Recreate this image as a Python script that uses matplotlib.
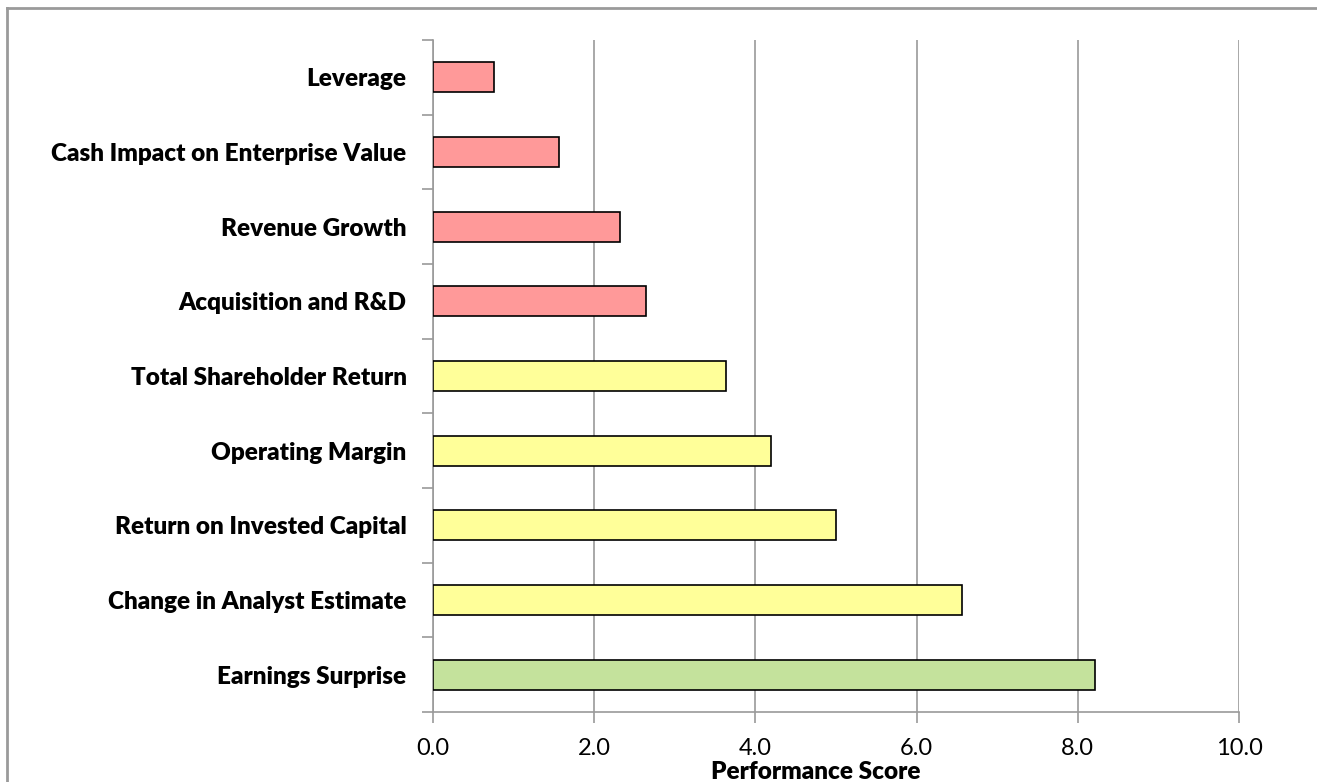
import matplotlib.pyplot as plt
from matplotlib.lines import Line2D
from matplotlib.ticker import FixedLocator, FormatStrFormatter

# metric names, listed bottom to top
metrics = [
    "Earnings Surprise",
    "Change in Analyst Estimate",
    "Return on Invested Capital",
    "Operating Margin",
    "Total Shareholder Return",
    "Acquisition and R&D",
    "Revenue Growth",
    "Cash Impact on Enterprise Value",
    "Leverage",
]
scores = [8.21, 6.56, 5.00, 4.19, 3.64, 2.64, 2.32, 1.56, 0.76]
tiers = ["high", "mid", "mid", "mid", "mid", "low", "low", "low", "low"]

tier_colors = {"high": "#C4E29C", "mid": "#FFFF99", "low": "#FF9999"}
grey = "#9a9a9a"

plt.rcParams["font.family"] = ["Lato", "DejaVu Sans"]

fig = plt.figure(figsize=(13.17, 7.82), dpi=100)
ax = fig.add_axes([433 / 1317, 1 - 712 / 782, (1239 - 433) / 1317, (712 - 40) / 782])

ypos = list(range(len(metrics)))
ax.barh(ypos, scores, height=0.4, color=[tier_colors[t] for t in tiers],
        edgecolor="black", linewidth=1.2, zorder=3)

ax.set_xlim(0, 10)
ax.set_ylim(-0.5, len(metrics) - 0.5)
ax.xaxis.set_major_locator(FixedLocator([0, 2, 4, 6, 8, 10]))
ax.xaxis.set_major_formatter(FormatStrFormatter("%.1f"))
ax.grid(axis="x", color=grey, linewidth=1.2, zorder=0)

ax.set_yticks(ypos)
ax.set_yticklabels(metrics, fontsize=17.5, fontweight="heavy")
ax.yaxis.set_minor_locator(FixedLocator([y - 0.5 for y in range(len(metrics) + 1)]))
ax.tick_params(axis="y", which="major", length=0, pad=19)
ax.tick_params(axis="y", which="minor", length=8, width=1.2, color=grey)
ax.tick_params(axis="x", length=8, width=1.2, color=grey, labelsize=17, pad=11)

for side in ("top", "right"):
    ax.spines[side].set_visible(False)
for side in ("left", "bottom"):
    ax.spines[side].set_color(grey)
    ax.spines[side].set_linewidth(1.2)

ax.set_xlabel("Performance Score", fontsize=17.5, fontweight="heavy", va="top")
ax.xaxis.set_label_coords(0.475, -0.073)

# chart-area frame along the top and left edges
fig.add_artist(Line2D([7 / 1317, 1.0], [1 - 8 / 782] * 2, color=grey, linewidth=2,
                      transform=fig.transFigure))
fig.add_artist(Line2D([7 / 1317] * 2, [0.0, 1 - 8 / 782], color=grey, linewidth=2,
                      transform=fig.transFigure))

fig.savefig("out.png", dpi=100)
